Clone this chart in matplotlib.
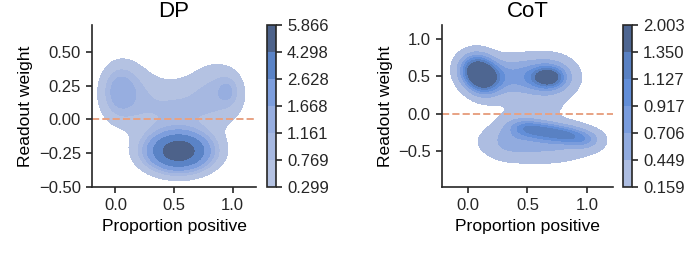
import numpy as np
import matplotlib
matplotlib.use("Agg")
import matplotlib.pyplot as plt
from matplotlib.colors import ListedColormap, to_rgb
from seaborn.external import husl

plt.rcParams["font.family"] = ["Liberation Sans", "DejaVu Sans"]

titles = ["DP", "CoT"]
x_label = "Proportion positive"
y_label = "Readout weight"

# contour levels
dp_levels = [0.299, 0.769, 1.161, 1.668, 2.628, 4.298, 5.866]
cot_levels = [0.159, 0.449, 0.706, 0.917, 1.127, 1.350, 2.003]

# density blobs (centre x, centre y, spread x, spread y, tilt, height)
# DP: bottom peak, left core, left base, right core, right base, middle band
dp_cx = [0.54, 0.03, 0.10, 0.96, 0.87, 0.50]
dp_cy = [-0.235, 0.21, 0.22, 0.21, 0.22, 0.08]
dp_sx = [0.17, 0.09, 0.14, 0.06, 0.15, 0.30]
dp_sy = [0.09, 0.12, 0.14, 0.07, 0.14, 0.145]
dp_rho = [0.0, 0.0, 0.0, 0.0, 0.0, 0.0]
dp_amp = [5.7, 0.85, 0.7, 0.65, 0.65, 0.8]

# CoT: left peak (two parts), right core, right base, bridge, ridge x4,
# lower base, lower-left lobe, filler between the two parts
cot_cx = [0.06, 0.14, 0.675, 0.675, 0.38, 0.50, 0.69, 0.87, 1.00, 0.60, 0.33, 0.55]
cot_cy = [0.60, 0.46, 0.49, 0.49, 0.50, -0.19, -0.24, -0.29, -0.35, -0.38, -0.33, 0.06]
cot_sx = [0.10, 0.10, 0.085, 0.15, 0.15, 0.11, 0.11, 0.11, 0.08, 0.32, 0.10, 0.25]
cot_sy = [0.15, 0.15, 0.085, 0.18, 0.18, 0.085, 0.085, 0.085, 0.08, 0.18, 0.16, 0.10]
cot_rho = [0.0, 0.0, 0.0, 0.0, 0.0, -0.2, -0.2, -0.2, 0.0, 0.0, 0.0, 0.0]
cot_amp = [1.25, 1.25, 0.85, 0.9, 0.6, 0.72, 0.6, 0.62, 0.3, 0.55, 0.2, 0.14]

dp_xlim = (-0.2, 1.2)
dp_ylim = (-0.5, 0.7)
cot_xlim = (-0.22, 1.22)
cot_ylim = (-0.98, 1.19)


def density(xx, yy, cx, cy, sx, sy, rho, amp):
    z = np.zeros_like(xx)
    for i in range(len(cx)):
        dx = (xx - cx[i]) / sx[i]
        dy = (yy - cy[i]) / sy[i]
        q = (dx**2 - 2 * rho[i] * dx * dy + dy**2) / (1 - rho[i]**2)
        z += amp[i] * np.exp(-q / 2)
    return z


def blue_cmap(color):
    # same idea as seaborn's filled kde colormap
    r, g, b = to_rgb(color)
    h, s, _ = husl.rgb_to_husl(r, g, b)
    xx = np.linspace(-1, 1, int(1.15 * 256))[:256]
    ramp = np.zeros((256, 3))
    ramp[:, 0] = h
    ramp[:, 1] = s * np.cos(xx)
    ramp[:, 2] = np.linspace(35, 80, 256)
    colors = np.clip([husl.husl_to_rgb(*hsl) for hsl in ramp], 0, 1)
    return ListedColormap(colors[::-1])


cmap = blue_cmap("#4c72b0")

fig = plt.figure(figsize=(6.98, 2.54), dpi=100)
ax_pos = [[0.1318, 0.2638, 0.235, 0.638], [0.6332, 0.2638, 0.245, 0.638]]
cb_pos = [[0.3825, 0.2638, 0.0129, 0.638], [0.8926, 0.2638, 0.0129, 0.638]]

panels = [
    (dp_levels, dp_cx, dp_cy, dp_sx, dp_sy, dp_rho, dp_amp, dp_xlim, dp_ylim,
     [-0.5, -0.25, 0.0, 0.25, 0.5], ["−0.50", "−0.25", "0.00", "0.25", "0.50"]),
    (cot_levels, cot_cx, cot_cy, cot_sx, cot_sy, cot_rho, cot_amp, cot_xlim, cot_ylim,
     [-0.5, 0.0, 0.5, 1.0], ["−0.5", "0.0", "0.5", "1.0"]),
]

for k, (levels, cx, cy, sx, sy, rho, amp, xlim, ylim, yt, ytl) in enumerate(panels):
    ax = fig.add_axes(ax_pos[k])
    cax = fig.add_axes(cb_pos[k])
    gx = np.linspace(xlim[0], xlim[1], 300)
    gy = np.linspace(ylim[0], ylim[1], 300)
    xx, yy = np.meshgrid(gx, gy)
    zz = density(xx, yy, cx, cy, sx, sy, rho, amp)
    # the top level is the peak of the density
    zz = np.minimum(zz, levels[-1] * 0.9999)
    cs = ax.contourf(xx, yy, zz, levels=levels, cmap=cmap)
    ax.axhline(0, color="#e8a283", linestyle="--", linewidth=1.4)
    ax.set_xlim(xlim)
    ax.set_ylim(ylim)
    ax.set_xticks([0.0, 0.5, 1.0])
    ax.set_xticklabels(["0.0", "0.5", "1.0"])
    ax.set_yticks(yt)
    ax.set_yticklabels(ytl)
    ax.set_title(titles[k], fontsize=16)
    ax.set_xlabel(x_label, fontsize=12.6)
    ax.set_ylabel(y_label, fontsize=12.6)
    for side in ["top", "right"]:
        ax.spines[side].set_visible(False)
    for side in ["left", "bottom"]:
        ax.spines[side].set_color("#262626")
        ax.spines[side].set_linewidth(1.2)
    ax.tick_params(labelsize=12, length=4.5, width=1.2, color="#262626", labelcolor="#262626")
    cb = fig.colorbar(cs, cax=cax)
    cb.set_ticks(levels)
    cb.set_ticklabels([f"{v:.3f}" for v in levels])
    cb.outline.set_edgecolor("#262626")
    cb.outline.set_linewidth(1.2)
    cax.tick_params(labelsize=12, length=4.5, width=1.2, color="#262626", labelcolor="#262626")

fig.savefig("out.png", dpi=100)
